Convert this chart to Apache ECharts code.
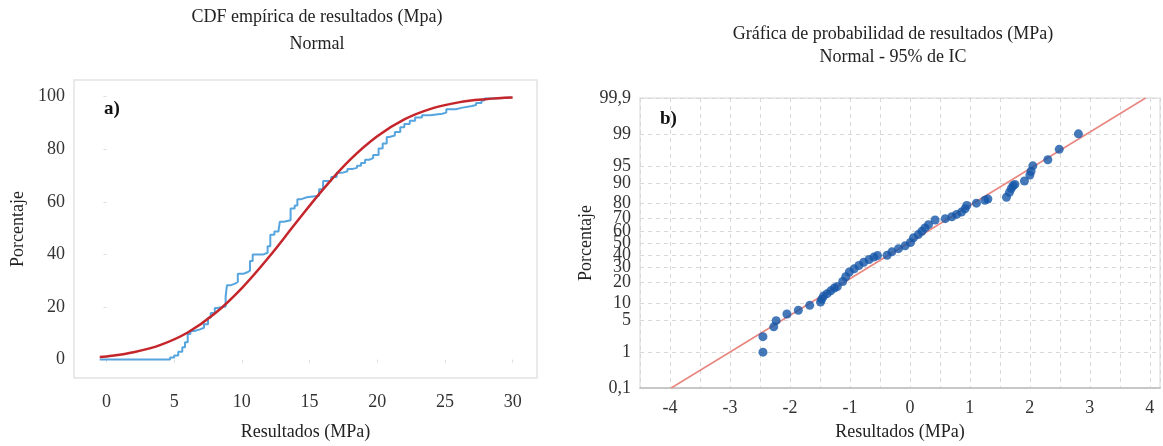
<!DOCTYPE html>
<html>
<head>
<meta charset="utf-8">
<script src="https://cdn.jsdelivr.net/npm/echarts@6/dist/echarts.min.js"></script>
<style>
  html, body { margin: 0; padding: 0; background: #fff; }
  #chart { width: 1163px; height: 446px; }
</style>
</head>
<body>
<div id="chart"></div>
<script>
// a) CDF empirica - escalones (x, porcentaje acumulado)
const ecdfX = [-0.5, 4.7, 5.0, 5.3, 5.6, 5.8, 6.0, 6.2, 6.5, 6.9, 7.2, 7.5, 7.7, 8.0, 8.2, 8.8, 8.9, 9.2, 9.5, 9.7,
  10.1, 10.4, 10.6, 10.8, 11.6, 11.9, 12.1, 12.4, 12.7, 12.8, 13.1, 13.6, 13.9, 14.1, 14.4, 14.8, 15.7, 16.0, 16.6, 17.0,
  17.4, 17.8, 18.2, 18.5, 18.8, 19.1, 19.4, 19.7, 20.1, 20.4, 20.7, 20.9, 21.3, 21.7, 22.0, 22.4, 22.8, 23.3, 23.9, 24.8,
  25.1, 25.8, 26.3, 27.0, 27.3, 27.7, 27.9, 28.6, 29.9];
const ecdfY = [0, 0.8, 1.6, 3.0, 4.7, 6.6, 9.7, 10.9, 11.5, 12.1, 13.4, 15.9, 17.7, 19.6, 20.2, 23.9, 28.3, 28.9, 29.5, 32.6,
  33.2, 33.8, 37.5, 40.0, 40.6, 43.1, 47.5, 48.7, 49.3, 52.4, 53.0, 57.4, 58.6, 61.0, 61.7, 62.3, 64.8, 67.9, 69.4, 71.0,
  71.6, 72.5, 72.9, 73.7, 74.7, 76.0, 76.6, 77.8, 80.3, 82.2, 84.6, 85.2, 86.5, 88.3, 89.6, 90.8, 92.0, 92.9, 93.5, 93.9,
  95.2, 95.8, 96.4, 96.8, 97.6, 98.5, 99.3, 99.6, 99.8];

// curva normal ajustada
const normX = [-0.5, 0, 2, 4, 6, 8, 10, 12, 14, 16, 18, 20, 22, 24, 26, 28, 30];
const normY = [1.0, 1.2, 2.8, 5.6, 10.3, 17.5, 27.2, 39.0, 52.0, 64.7, 76.0, 84.9, 91.3, 95.4, 97.8, 99.0, 99.6];

const ticksXa = [0, 5, 10, 15, 20, 25, 30];
const ticksYa = [0, 20, 40, 60, 80, 100];

// b) grafica de probabilidad - puntos (x, porcentaje)
const probX = [-2.45, -2.45, -2.27, -2.23, -2.05, -1.86, -1.67, -1.49, -1.47, -1.44, -1.38, -1.32, -1.26, -1.21, -1.12,
  -1.07, -1.01, -0.93, -0.85, -0.77, -0.68, -0.60, -0.54, -0.38, -0.30, -0.19, -0.08, 0.01, 0.06, 0.14, 0.20, 0.25,
  0.31, 0.42, 0.59, 0.70, 0.78, 0.86, 0.92, 0.95, 1.11, 1.25, 1.30, 1.61, 1.66, 1.69, 1.72, 1.75, 1.91, 2.00, 2.02,
  2.05, 2.30, 2.49, 2.81];
const probPct = [1.0, 2.3, 3.7, 4.9, 6.5, 7.6, 9.2, 10.4, 11.5, 12.9, 14.0, 15.4, 16.9, 17.7, 20.6,
  23.6, 26.8, 29.1, 31.6, 34.1, 36.3, 38.2, 39.4, 39.7, 42.5, 45.2, 47.6, 50.4, 54.4, 57.1, 59.9, 62.6,
  65.2, 68.8, 69.8, 71.2, 72.9, 74.5, 76.7, 78.8, 80.2, 81.9, 82.6, 83.5, 86.0, 87.7, 88.9, 89.4, 90.7, 92.6, 93.7,
  95.0, 96.2, 97.7, 99.0];

const fitX = [-3.98, 3.93];
const fitPct = [0.1, 99.9];

const probTicks = [0.1, 1, 5, 10, 20, 30, 40, 50, 60, 70, 80, 90, 95, 99, 99.9];
const probLabels = ['0,1', '1', '5', '10', '20', '30', '40', '50', '60', '70', '80', '90', '95', '99', '99,9'];

// escala de probabilidad normal (inversa de la normal, Acklam)
function probit(pct) {
  const p = pct / 100;
  const a = [-39.69683028665376, 220.9460984245205, -275.9285104469687, 138.3577518672690, -30.66479806614716, 2.506628277459239];
  const b = [-54.47609879822406, 161.5858368580409, -155.6989798598866, 66.80131188771972, -13.28068155288572];
  const c = [-0.007784894002430293, -0.3223964580411365, -2.400758277161838, -2.549732539343734, 4.374664141464968, 2.938163982698783];
  const d = [0.007784695709041462, 0.3224671290700398, 2.445134137142996, 3.754408661907416];
  const pl = 0.02425;
  let q, r;
  if (p < pl) {
    q = Math.sqrt(-2 * Math.log(p));
    return (((((c[0] * q + c[1]) * q + c[2]) * q + c[3]) * q + c[4]) * q + c[5]) / ((((d[0] * q + d[1]) * q + d[2]) * q + d[3]) * q + 1);
  }
  if (p > 1 - pl) {
    q = Math.sqrt(-2 * Math.log(1 - p));
    return -(((((c[0] * q + c[1]) * q + c[2]) * q + c[3]) * q + c[4]) * q + c[5]) / ((((d[0] * q + d[1]) * q + d[2]) * q + d[3]) * q + 1);
  }
  q = p - 0.5;
  r = q * q;
  return (((((a[0] * r + a[1]) * r + a[2]) * r + a[3]) * r + a[4]) * r + a[5]) * q / (((((b[0] * r + b[1]) * r + b[2]) * r + b[3]) * r + b[4]) * r + 1);
}

const probTickZ = probTicks.map(probit);
const zMax = probit(99.9);

const serif = 'Liberation Serif';
const textColor = '#333';
const titleStyle = { fontFamily: serif, fontSize: 18, fontWeight: 'normal', color: '#222' };
const nameStyle = { fontFamily: serif, fontSize: 18, color: '#222' };

const chart = echarts.init(document.getElementById('chart'));

const option = {
  animation: false,
  backgroundColor: '#fff',
  textStyle: { fontFamily: serif },
  title: [
    { text: 'CDF empírica de resultados (Mpa)', left: 312, top: 3, textAlign: 'center', textStyle: titleStyle },
    { text: 'Normal', left: 312, top: 30, textAlign: 'center', textStyle: titleStyle },
    { text: 'Gráfica de probabilidad de resultados (MPa)', left: 888, top: 20, textAlign: 'center', textStyle: titleStyle },
    { text: 'Normal - 95% de IC', left: 888, top: 43, textAlign: 'center', textStyle: titleStyle }
  ],
  graphic: [
    { type: 'text', left: 104, top: 100, style: { text: 'a)', font: 'bold 19px "Liberation Serif"', fill: '#111' } },
    { type: 'text', left: 660, top: 110, style: { text: 'b)', font: 'bold 19px "Liberation Serif"', fill: '#111' } }
  ],
  grid: [
    { left: 74, top: 80, width: 463, height: 308, show: true, borderColor: '#e3e3e3', borderWidth: 1.5 },
    { left: 640, top: 98, width: 524, height: 301, show: true, borderColor: '#e3e3e3', borderWidth: 1.5 }
  ],
  xAxis: [
    {
      gridIndex: 0, type: 'value', min: -2.4, max: 31.8,
      name: 'Resultados (MPa)', nameLocation: 'middle', nameGap: 45,
      nameTextStyle: nameStyle,
      axisLine: { show: false },
      axisTick: { show: true, customValues: ticksXa, length: 3, lineStyle: { color: '#ddd' } },
      axisLabel: { customValues: ticksXa, margin: 15, fontFamily: serif, fontSize: 18, color: textColor },
      splitLine: { show: false }
    },
    {
      gridIndex: 1, type: 'value', min: -4.5, max: 4.17, interval: 0.5,
      name: 'Resultados (MPa)', nameLocation: 'middle', nameGap: 35,
      nameTextStyle: nameStyle,
      axisLine: { show: true, onZero: false, lineStyle: { color: '#bdbdbd', width: 1.5 } },
      axisTick: { show: false },
      axisLabel: {
        margin: 11, fontFamily: serif, fontSize: 18, color: textColor,
        formatter: v => (Math.abs(v - Math.round(v)) < 1e-6 && v > -4.5) ? String(Math.round(v)) : ''
      },
      splitLine: { show: true, lineStyle: { color: '#d8d8d8', type: [4, 4], width: 1 } }
    }
  ],
  yAxis: [
    {
      gridIndex: 0, type: 'value', min: -7, max: 106.3,
      name: 'Porcentaje', nameLocation: 'middle', nameGap: 47,
      nameTextStyle: nameStyle,
      axisLine: { show: false },
      axisTick: { show: true, customValues: ticksYa, length: 3, lineStyle: { color: '#ddd' } },
      axisLabel: { customValues: ticksYa, margin: 9, fontFamily: serif, fontSize: 18, color: textColor },
      splitLine: { show: false }
    },
    {
      gridIndex: 1, type: 'value', min: -zMax, max: zMax,
      name: 'Porcentaje', nameLocation: 'middle', nameGap: 41,
      nameTextStyle: nameStyle,
      axisLine: { show: false },
      axisTick: { show: false, customValues: probTickZ },
      axisLabel: {
        customValues: probTickZ, margin: 9, fontFamily: serif, fontSize: 18, color: textColor,
        formatter: v => {
          let best = 0;
          probTickZ.forEach((z, i) => { if (Math.abs(z - v) < Math.abs(probTickZ[best] - v)) best = i; });
          return probLabels[best];
        }
      },
      splitLine: { show: true, lineStyle: { color: '#d8d8d8', type: [4, 4], width: 1 } }
    }
  ],
  series: [
    {
      name: 'Normal', type: 'line', xAxisIndex: 0, yAxisIndex: 0,
      data: normX.map((x, i) => [x, normY[i]]),
      smooth: 0.4, showSymbol: false, z: 3,
      lineStyle: { color: '#c4262c', width: 2.5 }
    },
    {
      name: 'CDF empírica', type: 'line', xAxisIndex: 0, yAxisIndex: 0,
      data: ecdfX.map((x, i) => [x, ecdfY[i]]),
      step: 'end', showSymbol: false, z: 2,
      lineStyle: { color: '#56a5de', width: 2 }
    },
    {
      name: 'Ajuste', type: 'line', xAxisIndex: 1, yAxisIndex: 1,
      data: fitX.map((x, i) => [x, probit(fitPct[i])]),
      showSymbol: false, z: 2,
      lineStyle: { color: '#e8867f', width: 1.5 }
    },
    {
      name: 'Resultados', type: 'scatter', xAxisIndex: 1, yAxisIndex: 1,
      data: probX.map((x, i) => [x, probit(probPct[i])]),
      symbolSize: 9, z: 3,
      itemStyle: { color: '#1556a8' }
    }
  ]
};

chart.setOption(option);
</script>
</body>
</html>
